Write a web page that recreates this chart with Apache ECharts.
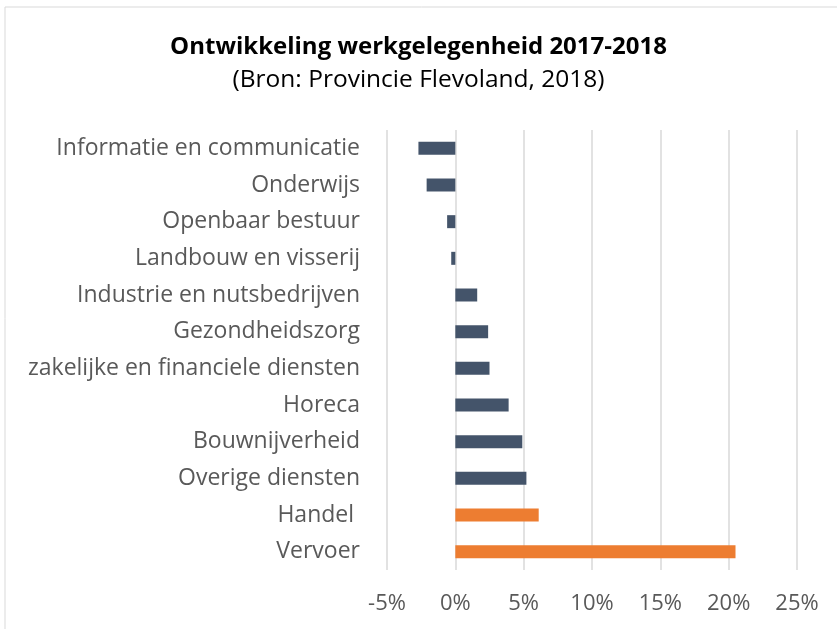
<!DOCTYPE html>
<html>
<head>
<meta charset="utf-8">
<script src="https://cdn.jsdelivr.net/npm/echarts@6/dist/echarts.min.js"></script>
<style>
  html, body { margin: 0; padding: 0; background: #fff; }
  #chart { width: 837px; height: 629px; }
</style>
</head>
<body>
<div id="chart"></div>
<script>
// sectoren, van boven naar beneden
const categories = [
  'Informatie en communicatie',
  'Onderwijs',
  'Openbaar bestuur',
  'Landbouw en visserij',
  'Industrie en nutsbedrijven',
  'Gezondheidszorg',
  'zakelijke en financiele diensten',
  'Horeca',
  'Bouwnijverheid',
  'Overige diensten',
  'Handel ',
  'Vervoer'
]

// groei werkgelegenheid in %
const growth = [-2.7, -2.1, -0.6, -0.3, 1.6, 2.4, 2.5, 3.9, 4.9, 5.2, 6.1, 20.5]

// sectoren die oranje gemarkeerd zijn
const highlighted = ['Handel ', 'Vervoer']

const xTicks = [-5, 0, 5, 10, 15, 20, 25]

const font = '"Open Sans", sans-serif'

const chart = echarts.init(document.getElementById('chart'))

chart.setOption({
  animation: false,
  backgroundColor: '#fff',
  title: [
    {
      text: 'Ontwikkeling werkgelegenheid 2017-2018',
      left: 'center',
      top: 30,
      textStyle: { fontFamily: font, fontSize: 24, fontWeight: 'bold', color: '#000' }
    },
    {
      text: '(Bron: Provincie Flevoland, 2018)',
      left: 'center',
      top: 63,
      textStyle: { fontFamily: font, fontSize: 24.5, fontWeight: 'normal', color: '#000' }
    }
  ],
  graphic: [
    {
      type: 'rect',
      shape: { x: 5, y: 7, width: 850, height: 650 },
      style: { fill: 'none', stroke: '#d9d9d9', lineWidth: 1 },
      silent: true
    }
  ],
  grid: {
    left: 387,
    right: 40,
    top: 130,
    bottom: 59
  },
  xAxis: {
    type: 'value',
    min: xTicks[0],
    max: xTicks[xTicks.length - 1],
    interval: 5,
    axisLine: { show: false },
    axisTick: { show: false },
    splitLine: { lineStyle: { color: '#d9d9d9', width: 1.5 } },
    axisLabel: {
      formatter: v => v + '%',
      fontFamily: font,
      fontSize: 22,
      color: '#595959',
      margin: 23
    }
  },
  yAxis: {
    type: 'category',
    data: categories,
    inverse: true,
    axisLine: { show: false },
    axisTick: { show: false },
    axisLabel: {
      fontFamily: font,
      fontSize: 23,
      color: '#595959',
      margin: 27
    }
  },
  series: [
    {
      type: 'bar',
      data: growth,
      barWidth: 13,
      itemStyle: {
        color: p => highlighted.includes(categories[p.dataIndex]) ? '#ED7D31' : '#44546A'
      }
    }
  ]
})
</script>
</body>
</html>
